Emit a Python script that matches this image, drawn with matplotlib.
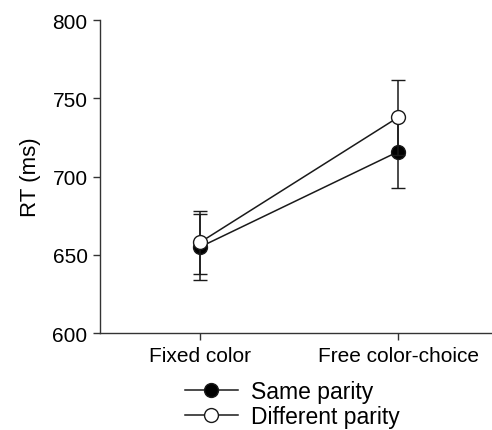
import matplotlib
matplotlib.use("Agg")
import matplotlib.pyplot as plt

plt.rcParams['font.family'] = ['Liberation Sans', 'DejaVu Sans']

conditions = ['Fixed color', 'Free color-choice']
same_rt = [655, 716]
same_err = [21, 23]
diff_rt = [658, 738]
diff_err = [20, 24]

fig = plt.figure(figsize=(4.92, 4.31), dpi=100)
ax = fig.add_axes([0.2033, 0.225, 0.80, 0.726])

x = list(range(len(conditions)))
ax.errorbar(x, same_rt, yerr=same_err, color='#1a1a1a', lw=1.1, capsize=5,
            capthick=1.1, marker='o', ms=10, mfc='black', mec='#1a1a1a',
            mew=1, label='Same parity', zorder=2)
ax.errorbar(x, diff_rt, yerr=diff_err, color='#1a1a1a', lw=1.1, capsize=5,
            capthick=1.1, marker='o', ms=10, mfc='white', mec='#1a1a1a',
            mew=1, label='Different parity', zorder=3)

ax.set_xlim(-0.505, 1.48)
ax.set_ylim(600, 800)
ax.set_yticks([600, 650, 700, 750, 800])
ax.set_xticks(x)
ax.set_xticklabels(conditions)
ax.set_ylabel('RT (ms)', fontsize=16, labelpad=8)
ax.tick_params(labelsize=15, length=5, width=1, color='#333333', pad=4)
for s in ['top', 'right']:
    ax.spines[s].set_visible(False)
for s in ['left', 'bottom']:
    ax.spines[s].set_color('#333333')
    ax.spines[s].set_linewidth(1)

h, l = ax.get_legend_handles_labels()
h = [hh[0] for hh in h]
fig.legend(h, l, loc='center left', bbox_to_anchor=(0.376, 0.06),
           frameon=False, fontsize=16.5, handlelength=2.3, handletextpad=0.6,
           labelspacing=0.1, borderpad=0, borderaxespad=0)

fig.savefig('out.png', dpi=100)
